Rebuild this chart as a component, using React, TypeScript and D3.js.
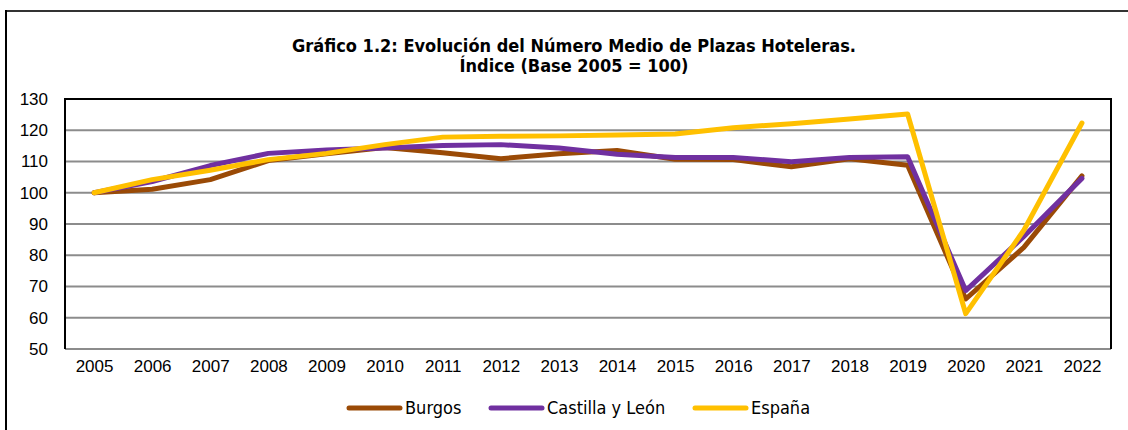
import React, { useRef, useEffect } from 'react';
import * as d3 from 'd3';

const years = ['2005', '2006', '2007', '2008', '2009', '2010', '2011', '2012', '2013',
  '2014', '2015', '2016', '2017', '2018', '2019', '2020', '2021', '2022'];

const burgos = [100, 101.1, 104.2, 110.3, 112.5, 114.5, 112.8, 110.9, 112.5,
  113.5, 110.7, 110.6, 108.3, 110.9, 108.8, 66, 82.5, 105.4];
const castillaLeon = [100, 103.6, 108.7, 112.6, 113.7, 114.3, 115.1, 115.4, 114.3,
  112.3, 111.3, 111.3, 109.9, 111.3, 111.5, 68.7, 86, 104.6];
const espana = [100, 104.2, 107.2, 110.6, 112.6, 115.4, 117.8, 118.1, 118.2,
  118.5, 118.8, 120.8, 122.1, 123.6, 125.2, 61.3, 88, 122.3];

const yTicks = [50, 60, 70, 80, 90, 100, 110, 120, 130];

const series = [
  { name: 'Burgos', values: burgos, color: '#9a4a06' },
  { name: 'Castilla y León', values: castillaLeon, color: '#7030a0' },
  { name: 'España', values: espana, color: '#ffc000' },
];

const titleLines = [
  'Gráfico 1.2: Evolución del Número Medio de Plazas Hoteleras.',
  'Índice (Base 2005 = 100)',
];

const App = () => {
  const svgRef = useRef(null);

  useEffect(() => {
    const svg = d3.select(svgRef.current);
    svg.selectAll('*').remove();

    const W = 1128;
    const H = 430;
    const plot = { left: 65, right: 1111, top: 99, bottom: 349 };
    const axisFont = '"Liberation Sans Narrow", "Arial Narrow", Arial, sans-serif';
    const textFont = '"DejaVu Sans Condensed", Tahoma, "DejaVu Sans", sans-serif';

    svg.append('rect').attr('width', W).attr('height', H).attr('fill', '#fff');

    // outer frame (top and left only)
    svg.append('line')
      .attr('x1', 6).attr('x2', W).attr('y1', 11).attr('y2', 11)
      .attr('stroke', '#333').attr('stroke-width', 2);
    svg.append('line')
      .attr('x1', 6).attr('x2', 6).attr('y1', 10).attr('y2', H)
      .attr('stroke', '#000').attr('stroke-width', 2);

    // title
    svg.append('text')
      .attr('x', 574)
      .attr('text-anchor', 'middle')
      .attr('font-family', textFont)
      .attr('font-weight', 'bold')
      .attr('font-size', 18)
      .attr('fill', '#000')
      .selectAll('tspan')
      .data(titleLines)
      .enter().append('tspan')
      .attr('x', 574)
      .attr('y', (d, i) => 52 + i * 20)
      .text(d => d);

    const x = d3.scalePoint()
      .domain(years)
      .range([plot.left, plot.right])
      .padding(0.5);

    const y = d3.scaleLinear()
      .domain([50, 130])
      .range([plot.bottom, plot.top]);

    // gridlines
    svg.append('g')
      .selectAll('line')
      .data(yTicks.filter(t => t < 130))
      .enter().append('line')
      .attr('x1', plot.left).attr('x2', plot.right)
      .attr('y1', d => y(d)).attr('y2', d => y(d))
      .attr('stroke', '#8c8c8c')
      .attr('stroke-width', 2);

    // plot border: top, left, right
    svg.append('path')
      .attr('d', `M${plot.left},${plot.bottom}V${plot.top}H${plot.right}V${plot.bottom}`)
      .attr('fill', 'none')
      .attr('stroke', '#000')
      .attr('stroke-width', 2);

    // y axis labels
    const yAxis = svg.append('g')
      .attr('transform', `translate(${plot.left},0)`)
      .call(d3.axisLeft(y).tickValues(yTicks).tickSize(0).tickPadding(17));
    yAxis.select('.domain').remove();
    yAxis.selectAll('text')
      .attr('font-family', axisFont)
      .attr('font-size', 17)
      .attr('fill', '#000');

    // x axis labels
    const xAxis = svg.append('g')
      .attr('transform', `translate(0,${plot.bottom})`)
      .call(d3.axisBottom(x).tickSize(0).tickPadding(11));
    xAxis.select('.domain').remove();
    xAxis.selectAll('text')
      .attr('font-family', axisFont)
      .attr('font-size', 17)
      .attr('fill', '#000');

    const line = d3.line()
      .x((d, i) => x(years[i]))
      .y(d => y(d));

    series.forEach(s => {
      svg.append('path')
        .datum(s.values)
        .attr('fill', 'none')
        .attr('stroke', s.color)
        .attr('stroke-width', 5)
        .attr('stroke-linejoin', 'round')
        .attr('stroke-linecap', 'round')
        .attr('d', line);
    });

    // legend
    const legendX = [349, 491, 695];
    const legend = svg.append('g')
      .selectAll('g')
      .data(series)
      .enter().append('g')
      .attr('transform', (d, i) => `translate(${legendX[i]},408)`);

    legend.append('line')
      .attr('x1', 0).attr('x2', 51)
      .attr('stroke', d => d.color)
      .attr('stroke-width', 5)
      .attr('stroke-linecap', 'round');

    legend.append('text')
      .attr('x', 56)
      .attr('y', 6)
      .attr('font-family', textFont)
      .attr('font-size', 18)
      .attr('fill', '#000')
      .text(d => d.name);
  }, []);

  return (
    <svg
      ref={svgRef}
      width={1128}
      height={430}
      style={{ position: 'absolute', left: 0, top: 0 }}
    />
  );
};

export default App;
